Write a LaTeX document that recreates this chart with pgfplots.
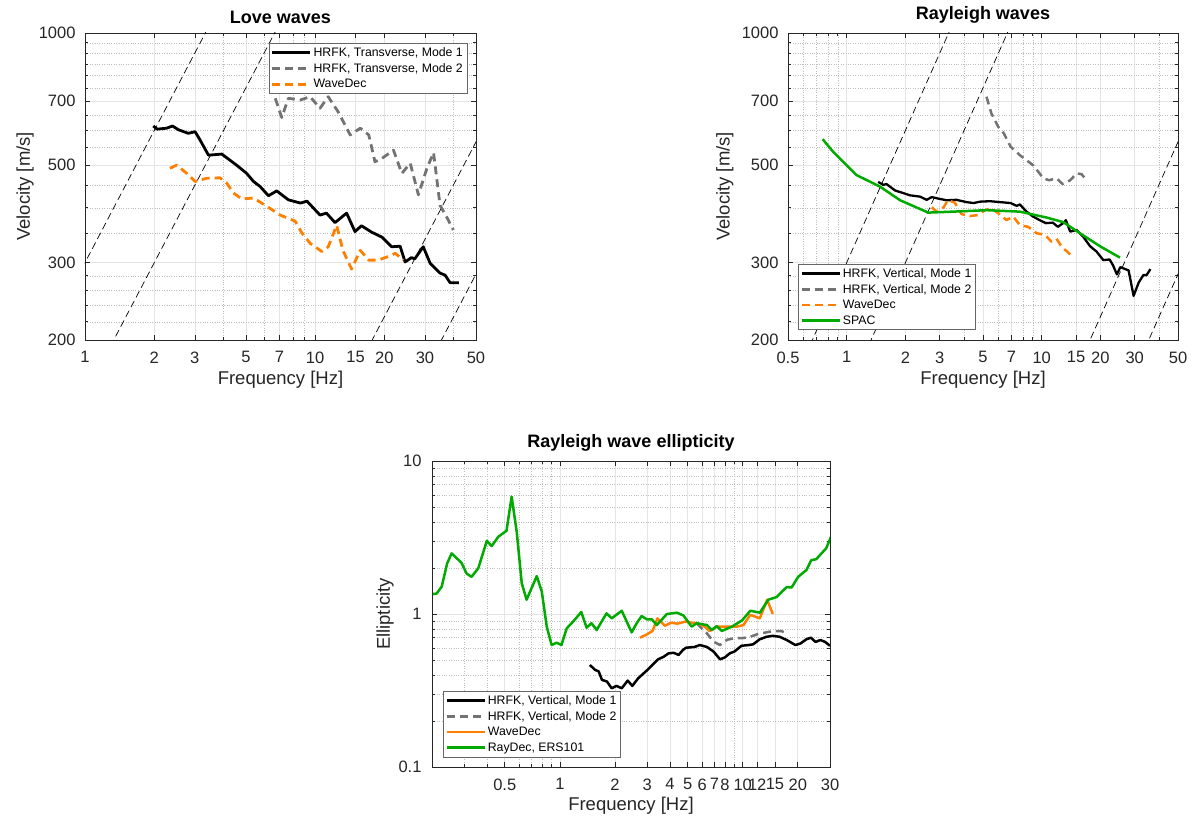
\documentclass[border=0pt]{standalone}
\usepackage{fontspec}
\setmainfont{Liberation Sans}
\usepackage{pgfplots}
\pgfplotsset{compat=1.18}
\definecolor{axgray}{RGB}{38,38,38}
\definecolor{mgray}{RGB}{115,115,115}
\definecolor{morange}{RGB}{255,128,0}
\definecolor{mgreen}{RGB}{0,170,0}
\pgfplotsset{legend image code/.code={\draw[#1] (0pt,0pt) -- (38pt,0pt);}}
\begin{document}
\begin{tikzpicture}
\useasboundingbox (0,0) rectangle (1192pt,820pt);

% ---------------- Love waves ----------------
\begin{axis}[
  scale only axis, xmode=log, ymode=log,
  axis line style={axgray, line width=0.8pt},
  tick style={axgray, line width=0.6pt},
  tick align=inside, major tick length=5pt, minor tick length=3pt,
  grid=both,
  major grid style={black!10, line width=0.6pt},
  minor grid style={black!25, dotted, line width=0.5pt},
  tick label style={font=\fontsize{16.5}{19}\selectfont, text=axgray},
  xticklabel style={yshift=-8pt},
  yticklabel style={xshift=-6pt},
  label style={font=\fontsize{18.5}{21}\selectfont, text=axgray},
  title style={font=\bfseries\fontsize{18}{21}\selectfont},
  legend style={font=\fontsize{12.3}{14}\selectfont, draw=black!60, fill=white, inner sep=2pt, row sep=1.5pt},
  legend cell align=left,
  at={(85pt,480pt)}, anchor=south west, width=391pt, height=307pt,
  xmin=1, xmax=50, ymin=200, ymax=1000,
  xtick={1,2,3,5,7,10,15,20,30,50}, xticklabels={1,2,3,5,7,10,15,20,30,50},
  minor xtick={4,6,8,9,40},
  ytick={200,300,500,700,1000}, yticklabels={200,300,500,700,1000},
  minor ytick={220,240,260,280,350,400,450,550,600,650,750,800,850,900,950},
  xlabel={Frequency [Hz]}, ylabel={Velocity [m/s]},
  xlabel style={at={(axis description cs:0.5,-0.13)}, anchor=center},
  ylabel style={at={(axis description cs:-0.153,0.5)}, anchor=center},
  title={Love waves},
  legend style={at={(0.977,0.967)}, anchor=north east},
]
\addplot[black, line width=0.7pt, dash pattern=on 7pt off 4pt, forget plot] coordinates {(0.5,150) (10,3000)};
\addplot[black, line width=0.7pt, dash pattern=on 7pt off 4pt, forget plot] coordinates {(1,150) (20,3000)};
\addplot[black, line width=0.7pt, dash pattern=on 7pt off 4pt, forget plot] coordinates {(10,113) (100,1130)};
\addplot[black, line width=0.7pt, dash pattern=on 7pt off 4pt, forget plot] coordinates {(20,113) (100,565)};
\addplot[black, line width=2.8pt, line join=round] coordinates {
(1.98,614)(2.06,604)(2.26,607)(2.40,614)(2.55,602)(2.81,591)(3.01,596)(3.16,571)(3.44,527)(3.93,530)(4.56,500)(5.04,479)(5.40,459)(5.77,447)(6.27,426)(6.81,437)(7.65,417)(8.63,410)(9.22,414)(10.5,385)(11.2,389)(12.2,370)(13.7,389)(14.9,353)(15.9,364)(17.6,352)(19.5,343)(21.5,326)(23.4,327)(24.6,301)(26.2,308)(27.1,306)(29.5,326)(31.6,299)(34.9,284)(36.7,281)(38.6,270)(42.1,270)};
\addlegendentry{HRFK, Transverse, Mode 1}
\addplot[mgray, line width=2.8pt, dash pattern=on 8pt off 5pt, line join=round] coordinates {
(6.71,710)(7.16,642)(7.65,710)(8.63,704)(9.51,716)(10.5,674)(11.4,716)(12.6,661)(14.2,586)(15.7,607)(17.1,586)(18.2,509)(19.5,518)(21.9,541)(23.8,479)(25.9,505)(28.1,428)(30.6,492)(32.7,534)(34.9,405)(37.2,382)(39.9,356)};
\addlegendentry{HRFK, Transverse, Mode 2}
\addplot[morange, line width=2.8pt, dash pattern=on 8pt off 5pt, line join=round] coordinates {
(2.34,492)(2.50,500)(2.77,479)(3.01,459)(3.38,467)(3.86,468)(4.13,455)(4.42,432)(4.80,419)(5.40,421)(6.36,399)(7.05,385)(8.19,373)(8.74,351)(9.51,332)(10.7,318)(11.4,326)(12.4,365)(13.2,320)(14.4,290)(15.7,320)(17.1,304)(18.8,304)(20.5,309)(22.3,315)(24.2,304)};
\addlegendentry{WaveDec}
\end{axis}

% ---------------- Rayleigh waves ----------------
\begin{axis}[
  scale only axis, xmode=log, ymode=log,
  axis line style={axgray, line width=0.8pt},
  tick style={axgray, line width=0.6pt},
  tick align=inside, major tick length=5pt, minor tick length=3pt,
  grid=both,
  major grid style={black!10, line width=0.6pt},
  minor grid style={black!25, dotted, line width=0.5pt},
  tick label style={font=\fontsize{16.5}{19}\selectfont, text=axgray},
  xticklabel style={yshift=-8pt},
  yticklabel style={xshift=-6pt},
  label style={font=\fontsize{18.5}{21}\selectfont, text=axgray},
  title style={font=\bfseries\fontsize{18}{21}\selectfont},
  legend style={font=\fontsize{12.3}{14}\selectfont, draw=black!60, fill=white, inner sep=2pt, row sep=1.5pt},
  legend cell align=left,
  at={(788pt,480pt)}, anchor=south west, width=390pt, height=307pt,
  xmin=0.5, xmax=50, ymin=200, ymax=1000,
  xtick={0.5,1,2,3,5,7,10,15,20,30,50}, xticklabels={0.5,1,2,3,5,7,10,15,20,30,50},
  minor xtick={0.6,0.7,0.8,0.9,4,6,8,9,40},
  ytick={200,300,500,700,1000}, yticklabels={200,300,500,700,1000},
  minor ytick={220,240,260,280,350,400,450,550,600,650,750,800,850,900,950},
  xlabel={Frequency [Hz]}, ylabel={Velocity [m/s]},
  xlabel style={at={(axis description cs:0.5,-0.13)}, anchor=center},
  ylabel style={at={(axis description cs:-0.162,0.5)}, anchor=center},
  title={Rayleigh waves},
  legend style={at={(0.026,0.033)}, anchor=south west},
]
\addplot[black, line width=0.7pt, dash pattern=on 7pt off 4pt, forget plot] coordinates {(0.5,150) (10,3000)};
\addplot[black, line width=0.7pt, dash pattern=on 7pt off 4pt, forget plot] coordinates {(1,150) (20,3000)};
\addplot[black, line width=0.7pt, dash pattern=on 7pt off 4pt, forget plot] coordinates {(10,113) (100,1130)};
\addplot[black, line width=0.7pt, dash pattern=on 7pt off 4pt, forget plot] coordinates {(20,113) (100,565)};
\addplot[black, line width=2.3pt, line join=round] coordinates {
(1.45,458)(1.54,451)(1.60,453)(1.77,438)(1.95,432)(2.11,427)(2.38,424)(2.57,417)(2.73,423)(3.00,419)(3.25,416)(3.65,417)(4.12,412)(4.47,410)(4.84,413)(5.43,414)(6.12,412)(6.93,410)(7.44,404)(7.73,407)(8.36,392)(9.03,382)(9.75,375)(10.5,369)(11.4,370)(12.1,362)(13.1,371)(13.3,375)(14.0,353)(15.1,356)(16.3,344)(17.7,327)(19.1,318)(20.7,304)(22.3,305)(23.2,296)(24.3,282)(25.3,293)(27.9,288)(29.6,252)(31.4,270)(33.2,281)(34.5,281)(36.1,290)};
\addlegendentry{HRFK, Vertical, Mode 1}
\addplot[mgray, line width=2.5pt, dash pattern=on 8pt off 5pt, line join=round] coordinates {
(5.21,716)(5.52,656)(5.98,612)(6.39,591)(6.93,551)(7.73,527)(9.03,500)(10.2,467)(10.9,462)(11.9,467)(12.8,453)(14.0,462)(15.1,479)(16.0,477)(17.1,461)};
\addlegendentry{HRFK, Vertical, Mode 2}
\addplot[morange, line width=2.5pt, dash pattern=on 8pt off 5pt, line join=round] coordinates {
(2.73,401)(2.89,392)(3.14,401)(3.30,416)(3.58,411)(3.88,387)(4.28,383)(4.70,385)(5.11,395)(5.52,399)(5.98,389)(6.60,375)(7.15,382)(7.73,365)(8.52,362)(9.42,350)(10.4,347)(11.2,335)(11.9,340)(12.8,324)(13.5,318)(14.5,308)};
\addlegendentry{WaveDec}
\addplot[mgreen, line width=2.5pt, line join=round] coordinates {
(0.753,573)(0.85,537)(1.12,475)(1.48,447)(1.88,416)(2.62,390)(3.52,392)(5.22,395)(7.72,392)(10.6,380)(12.9,371)(15.7,350)(19.9,327)(25.2,308)};
\addlegendentry{SPAC}
\end{axis}

% ---------------- Ellipticity ----------------
\begin{axis}[
  scale only axis, xmode=log, ymode=log,
  axis line style={axgray, line width=0.8pt},
  tick style={axgray, line width=0.6pt},
  tick align=inside, major tick length=5pt, minor tick length=3pt,
  grid=both,
  major grid style={black!10, line width=0.6pt},
  minor grid style={black!25, dotted, line width=0.5pt},
  tick label style={font=\fontsize{16.5}{19}\selectfont, text=axgray},
  xticklabel style={yshift=-8pt},
  yticklabel style={xshift=-7pt},
  label style={font=\fontsize{18.5}{21}\selectfont, text=axgray},
  title style={font=\bfseries\fontsize{18}{21}\selectfont},
  legend style={font=\fontsize{12.3}{14}\selectfont, draw=black!60, fill=white, inner sep=2pt, row sep=1.5pt},
  legend cell align=left,
  at={(432pt,53pt)}, anchor=south west, width=398pt, height=306pt,
  xmin=0.2, xmax=30, ymin=0.1, ymax=10,
  xtick={0.5,1,2,3,4,5,6,7,8,10,12,15,20,30}, xticklabels={0.5,1,2,3,4,5,6,7,8,10,12,15,20,30},
  minor xtick={0.3,0.4,0.6,0.7,0.8,0.9,9},
  ytick={0.1,1,10}, yticklabels={0.1,1,10},
  minor ytick={0.2,0.3,0.4,0.5,0.6,0.7,0.8,0.9,2,3,4,5,6,7,8,9},
  xlabel={Frequency [Hz]}, ylabel={Ellipticity},
  xlabel style={at={(axis description cs:0.5,-0.128)}, anchor=center},
  ylabel style={at={(axis description cs:-0.118,0.5)}, anchor=center},
  title={Rayleigh wave ellipticity},
  legend style={at={(0.028,0.033)}, anchor=south west},
]
\addplot[black, line width=2.5pt, line join=round] coordinates {
(1.46,0.464)(1.56,0.431)(1.63,0.422)(1.70,0.371)(1.81,0.362)(1.92,0.327)(2.04,0.339)(2.18,0.327)(2.35,0.367)(2.49,0.339)(2.68,0.380)(2.98,0.426)(3.23,0.469)(3.45,0.506)(3.69,0.525)(3.93,0.553)(4.19,0.558)(4.46,0.54)(4.71,0.582)(4.90,0.602)(5.46,0.609)(5.82,0.627)(6.37,0.609)(6.93,0.568)(7.51,0.506)(7.98,0.52)(8.49,0.553)(9.04,0.570)(9.84,0.620)(10.8,0.627)(11.4,0.634)(12.4,0.684)(13.5,0.71)(14.6,0.72)(15.9,0.71)(17.4,0.676)(19.4,0.627)(20.7,0.642)(22.3,0.684)(23.6,0.70)(25.0,0.657)(26.6,0.676)(28.2,0.657)(30,0.62)};
\addlegendentry{HRFK, Vertical, Mode 1}
\addplot[mgray, line width=2.5pt, dash pattern=on 8pt off 5pt, line join=round] coordinates {
(5.60,0.870)(6.37,0.747)(6.93,0.659)(7.51,0.627)(8.22,0.679)(9.07,0.696)(10.0,0.696)(11.0,0.71)(12.1,0.74)(14.6,0.773)(16.3,0.773)(17.4,0.747)};
\addlegendentry{HRFK, Vertical, Mode 2}
\addplot[morange, line width=2.5pt, line join=round] coordinates {
(2.74,0.700)(2.95,0.729)(3.21,0.775)(3.42,0.937)(3.75,0.838)(4.06,0.877)(4.40,0.865)(4.84,0.891)(5.26,0.877)(5.71,0.870)(6.20,0.827)(6.58,0.773)(7.21,0.827)(8.18,0.827)(9.27,0.827)(10.1,0.847)(11.0,0.987)(12.4,0.937)(13.6,1.24)(14.6,1.00)};
\addlegendentry{WaveDec}
\addplot[mgreen, line width=2.5pt, line join=round] coordinates {
(0.202,1.35)(0.212,1.36)(0.226,1.51)(0.242,2.14)(0.256,2.49)(0.290,2.16)(0.309,1.84)(0.329,1.75)(0.358,1.99)(0.399,3.01)(0.424,2.78)(0.461,3.20)(0.511,3.50)(0.545,5.85)(0.581,3.45)(0.619,1.59)(0.658,1.24)(0.748,1.77)(0.797,1.40)(0.848,0.827)(0.902,0.627)(0.960,0.649)(1.02,0.627)(1.09,0.805)(1.18,0.891)(1.31,1.03)(1.40,0.814)(1.49,0.870)(1.59,0.786)(1.80,1.01)(1.92,0.937)(2.18,1.05)(2.47,0.759)(2.63,0.870)(2.80,0.970)(2.99,0.923)(3.18,0.923)(3.39,0.847)(3.85,1.00)(4.37,1.02)(4.74,0.977)(5.26,0.827)(5.60,0.870)(6.37,0.847)(6.78,0.786)(7.21,0.834)(7.68,0.775)(8.73,0.827)(9.92,0.909)(11.0,1.05)(12.4,1.02)(13.8,1.24)(15.3,1.29)(17.4,1.50)(18.5,1.49)(20.1,1.75)(22.3,1.94)(23.7,2.25)(25.2,2.28)(28.6,2.69)(30.4,3.2)};
\addlegendentry{RayDec, ERS101}
\end{axis}
\end{tikzpicture}
\end{document}
